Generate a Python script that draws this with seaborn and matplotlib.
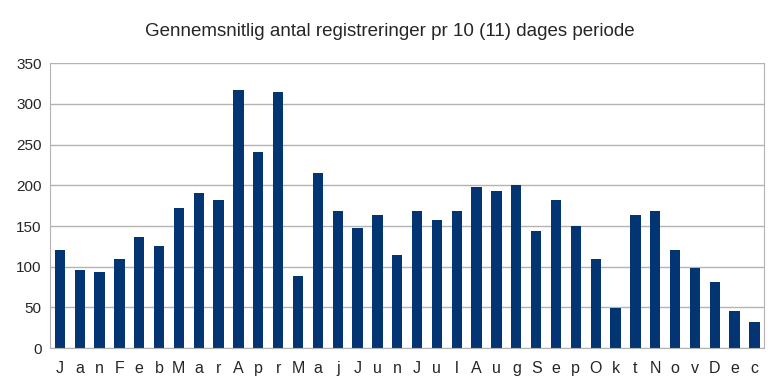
import numpy as np
import pandas as pd
import matplotlib
matplotlib.use("Agg")
import matplotlib.pyplot as plt
import seaborn as sns

labels = list("JanFebMarAprMajJunJulAugSepOktNovDec")
values = [120, 96, 94, 110, 137, 126, 172, 190, 182, 317, 241, 315,
          89, 215, 168, 147, 163, 115, 168, 158, 169, 198, 193, 200,
          144, 182, 150, 109, 49, 163, 169, 120, 98, 81, 46, 32]
yticks = [0, 50, 100, 150, 200, 250, 300, 350]

df = pd.DataFrame({"pos": range(len(values)), "val": values})

sns.set_style("white")
plt.rcParams["font.family"] = ["Liberation Sans", "DejaVu Sans"]

fig, ax = plt.subplots(figsize=(7.8, 3.83), dpi=100)
fig.subplots_adjust(left=0.064, right=0.98, top=0.835, bottom=0.091)

sns.barplot(data=df, x="pos", y="val", color="#043573", saturation=1,
            width=0.52, ax=ax, linewidth=0)

ax.set_xlim(-0.5, len(values) - 0.5)
ax.set_ylim(0, 350)
ax.set_yticks(yticks)
ax.set_xticks(range(len(values)))
ax.set_xticklabels(labels, fontsize=11.5)
ax.set_xticks(np.arange(-0.5, len(values)), minor=True)
ax.tick_params(axis="x", which="major", length=0, pad=9)
ax.tick_params(axis="x", which="minor", length=5, color="#b3b3b3", width=1)
ax.tick_params(axis="y", length=3, color="#b3b3b3", labelsize=11, pad=3)
ax.set_xlabel("")
ax.set_ylabel("")
ax.yaxis.grid(True, color="#b3b3b3", linewidth=1)
ax.set_axisbelow(True)
for side in ["left", "right", "bottom"]:
    ax.spines[side].set_color("#b3b3b3")
    ax.spines[side].set_visible(True)
ax.spines["top"].set_visible(False)

fig.suptitle("Gennemsnitlig antal registreringer pr 10 (11) dages periode",
             fontsize=13.5, x=0.5, y=0.94)

fig.savefig("out.png", dpi=100)
